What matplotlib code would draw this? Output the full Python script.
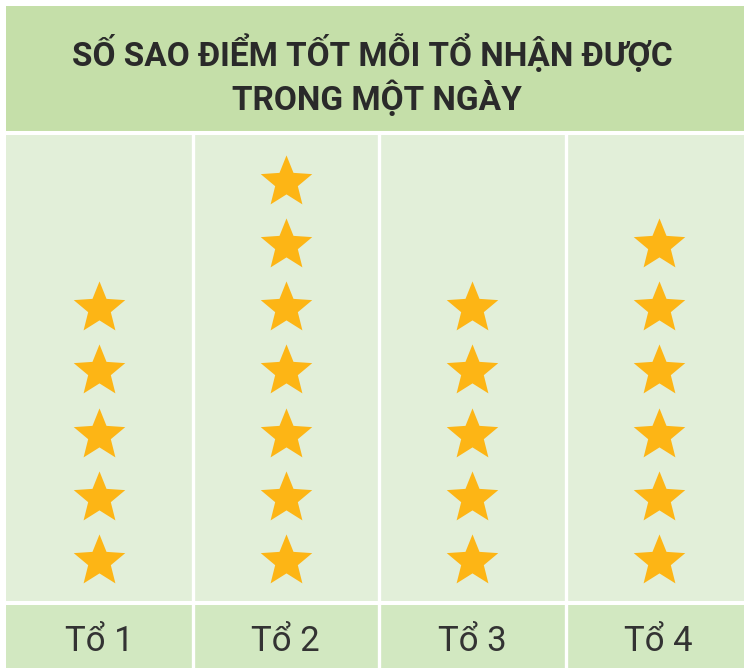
import matplotlib
matplotlib.use("Agg")
import matplotlib.pyplot as plt
from matplotlib.patches import Rectangle
from matplotlib.path import Path

# data
groups = ["Tổ 1", "Tổ 2", "Tổ 3", "Tổ 4"]
stars = [5, 7, 5, 6]
title_lines = ["SỐ SAO ĐIỂM TỐT MỖI TỔ NHẬN ĐƯỢC", "TRONG MỘT NGÀY"]

W, H = 744, 668
title_bg = "#c5dfa9"
body_bg = "#e2efd9"
label_bg = "#d2e8c1"
star_color = "#fdb515"
text_color = "#2a2a2a"

# a slightly plumper star than the built-in '*'
star_marker = Path.unit_regular_star(5, 0.44)

fig = plt.figure(figsize=(W / 100, H / 100), dpi=100)
fig.patch.set_facecolor("white")


def px_box(x0, y0, x1, y1):
    # pixel box (top-left origin) -> figure fraction rect
    return [x0 / W, 1 - y1 / H, (x1 - x0) / W, (y1 - y0) / H]


# title band
fig.patches.append(Rectangle((6 / W, 1 - 131 / H), (W - 6) / W, (131 - 6) / H,
                             transform=fig.transFigure, facecolor=title_bg,
                             edgecolor="none", zorder=0))
fig.text(372 / W, 1 - 66 / H, title_lines[0], ha="center", va="baseline",
         fontsize=24, fontweight="bold", family="Roboto", color=text_color)
fig.text(377 / W, 1 - 110 / H, title_lines[1], ha="center", va="baseline",
         fontsize=24, fontweight="bold", family="Roboto", color=text_color)

col_w = 186.5
x_left = 6
x_right = x_left + col_w * len(groups)
body_top, body_bot = 135, 601

# body with stars
ax = fig.add_axes(px_box(x_left, body_top, x_right, body_bot))
for i, n in enumerate(stars):
    ax.plot([i] * n, list(range(1, n + 1)), linestyle="none", marker=star_marker,
            markersize=39, color=star_color, markeredgewidth=0)
for i in range(1, len(groups)):
    ax.axvline(i - 0.5, color="white", linewidth=2.4)
ax.set_xlim(-0.5, len(groups) - 0.5)
ax.set_ylim(1 - (body_bot - 561) / 63.2, 1 + (561 - body_top) / 63.2)
ax.axis("off")
ax.add_patch(Rectangle((0, 0), 1, 1, transform=ax.transAxes, facecolor=body_bg,
                       edgecolor="none", zorder=-1))

# label row
axl = fig.add_axes(px_box(x_left, 605, x_right, H))
axl.set_xlim(-0.5, len(groups) - 0.5)
axl.set_ylim(0, 1)
axl.axis("off")
axl.add_patch(Rectangle((0, 0), 1, 1, transform=axl.transAxes, facecolor=label_bg,
                        edgecolor="none", zorder=-1))
for i in range(1, len(groups)):
    axl.axvline(i - 0.5, color="white", linewidth=2.4)
for i, g in enumerate(groups):
    axl.text(i, (H - 651) / (H - 605), g, ha="center", va="baseline",
             fontsize=25, family="Roboto", color="#333333")

fig.savefig("out.png", dpi=100, facecolor="white")
